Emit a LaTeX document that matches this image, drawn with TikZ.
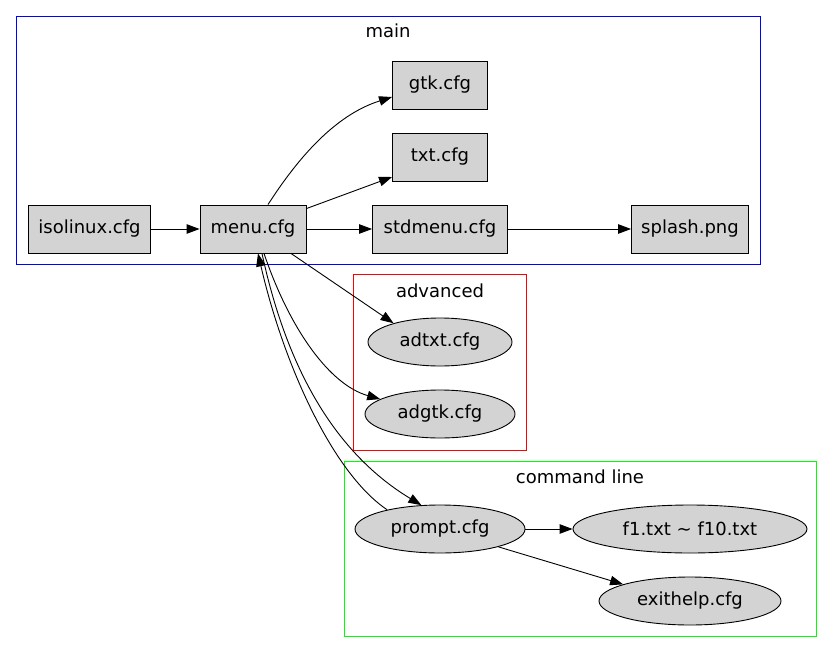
\documentclass[tikz,border=0pt]{standalone}
\usepackage{fontspec}
\setmainfont{DejaVu Sans}
\usetikzlibrary{shapes.geometric,arrows.meta}
\definecolor{gvgray}{HTML}{D3D3D3}
\definecolor{gvgreen}{HTML}{00FF00}
\begin{document}
\begin{tikzpicture}[x=1pt,y=-1pt,
  every node/.style={font=\fontsize{18}{21}\selectfont, inner sep=0pt},
  boxnode/.style={draw, line width=0.9pt, fill=gvgray, minimum height=48pt},
  ellnode/.style={draw, ellipse, line width=0.9pt, fill=gvgray, minimum height=48pt},
  arr/.style={line width=0.9pt, -{Triangle[length=13pt,width=9.5pt]}},
  clusterbox/.style={line width=0.9pt}]
\useasboundingbox (0,0) rectangle (832,653);
% clusters
\draw[clusterbox, blue] (16,16) rectangle (760,264);
\node (lmain) at (388,31) {main};
\draw[clusterbox, red] (353,274) rectangle (526,450);
\node (ladv) at (440,291) {advanced};
\draw[clusterbox, gvgreen] (344,461) rectangle (816,636);
\node (lcmd) at (580,477) {command line};
% nodes
\node[boxnode, minimum width=122pt] (iso) at (89.5,229) {isolinux.cfg};
\node[boxnode, minimum width=106pt] (menu) at (253,229) {menu.cfg};
\node[boxnode, minimum width=95pt] (gtk) at (440,85) {gtk.cfg};
\node[boxnode, minimum width=95pt] (txt) at (440,157) {txt.cfg};
\node[boxnode, minimum width=135pt] (std) at (440,229) {stdmenu.cfg};
\node[boxnode, minimum width=117pt] (splash) at (690,229) {splash.png};
\node[ellnode, minimum width=144pt] (adtxt) at (440,342) {adtxt.cfg};
\node[ellnode, minimum width=150pt] (adgtk) at (440,414) {adgtk.cfg};
\node[ellnode, minimum width=170pt] (prompt) at (440,529) {prompt.cfg};
\node[ellnode, minimum width=234pt] (f1) at (690,529) {f1.txt \textasciitilde\ f10.txt};
\node[ellnode, minimum width=182pt] (exit) at (690,601) {exithelp.cfg};
% edges
\draw[arr] (iso) -- (menu);
\draw[arr] (menu) -- (std);
\draw[arr] (std) -- (splash);
\draw[arr] ([xshift=15pt]menu.north) .. controls (298,158) and (335,115) .. ([yshift=-12pt]gtk.west);
\draw[arr] ([yshift=-4pt]menu.north east) -- ([yshift=-20pt]txt.west);
\draw[arr] ([xshift=38pt]menu.south) -- (adtxt.158);
\draw[arr] ([xshift=11pt]menu.south) .. controls (290,330) and (330,385) .. (adgtk.166);
\draw[arr] ([xshift=9pt]menu.south) .. controls (285,360) and (330,450) .. (prompt.128);
\draw[arr] (prompt.160) .. controls (335,475) and (285,370) .. ([xshift=5pt]menu.south);
\draw[arr] (prompt) -- (f1);
\draw[arr] (prompt.-17.5) -- (exit.166);
\end{tikzpicture}
\end{document}
